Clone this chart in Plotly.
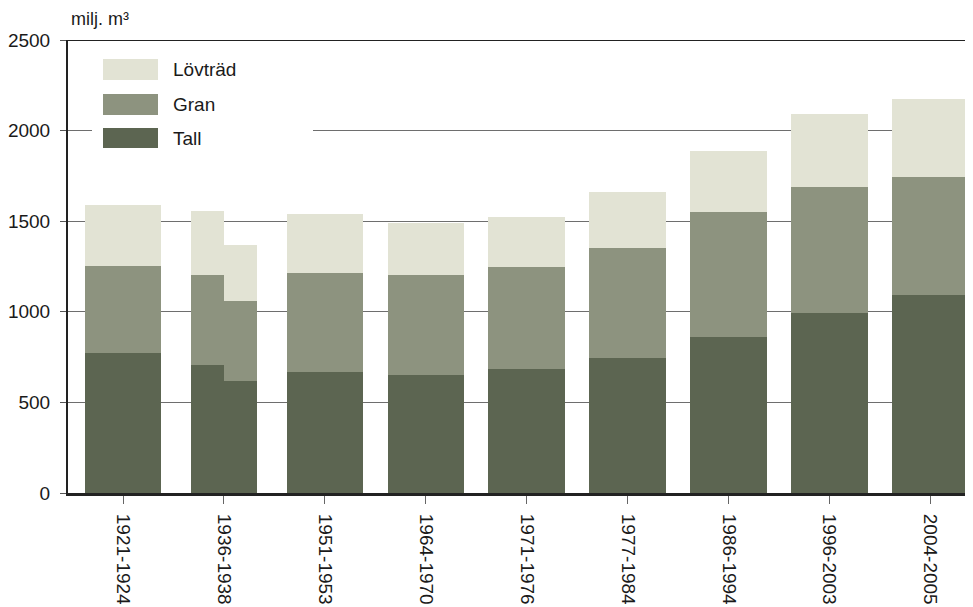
import plotly.graph_objects as go

periods = ["1921-1924", "1936-1938", "1951-1953", "1964-1970", "1971-1976",
           "1977-1984", "1986-1994", "1996-2003", "2004-2005"]
# each bar belongs to a period (1936-1938 has two estimates)
bar_period = [0, 1, 1, 2, 3, 4, 5, 6, 7, 8]
tall = [772, 705, 617, 666, 650, 683, 745, 859, 996, 1095]
gran = [482, 500, 445, 550, 555, 566, 609, 692, 692, 648]
lovtrad = [336, 352, 308, 322, 287, 275, 307, 339, 402, 429]
y_ticks = [0, 500, 1000, 1500, 2000, 2500]

series = [("Tall", tall, "#5c6551"), ("Gran", gran, "#8d937f"), ("Lövträd", lovtrad, "#e2e3d4")]

# positions: split periods share the slot
full_w, half_w = 0.76, 0.33
xs, ws = [], []
for i, p in enumerate(bar_period):
    n = bar_period.count(p)
    if n == 1:
        xs.append(p); ws.append(full_w)
    else:
        k = [j for j, q in enumerate(bar_period) if q == p].index(i)
        xs.append(p + (k - (n - 1) / 2) * half_w)
        ws.append(half_w)

# page has an 8px body margin; figure sized to fill the rest of the window
OFF = 8
W, H = 965, 599
L, R, T, B = 68 - OFF, 0, 40 - OFF, 114
pw, ph = W - L - R, H - T - B

def px(x):  # window pixel -> paper x
    return (x - OFF - L) / pw

def py(y):  # window pixel -> paper y
    return (H - B - (y - OFF)) / ph

fig = go.Figure()
for name, vals, col in series:
    fig.add_trace(go.Bar(x=xs, y=vals, width=ws, name=name, marker_color=col,
                         marker_line_width=0, showlegend=False))

font = "Liberation Sans, Arial, sans-serif"
fs = 19
fig.update_layout(
    width=W, height=H, barmode="stack",
    margin=dict(l=L, r=R, t=T, b=B, autoexpand=False),
    plot_bgcolor="white", paper_bgcolor="white",
    font=dict(family=font, size=fs, color="#1a1a1a"),
    xaxis=dict(range=[-0.545, 8.42], tickmode="array", tickvals=list(range(len(periods))),
               ticktext=periods, tickangle=90, showgrid=False, showline=True,
               linecolor="#222", linewidth=3, ticks="outside", ticklen=8,
               tickcolor="#666", tickwidth=1, zeroline=False, automargin=False,
               tickfont=dict(size=fs, color="#1a1a1a"), ticklabelstandoff=6),
    yaxis=dict(range=[0, 2500], tickmode="array", tickvals=y_ticks,
               showgrid=True, gridcolor="#6e6e6e", gridwidth=1.2,
               showline=True, linecolor="#222", linewidth=2, ticks="outside",
               ticklen=6, tickcolor="#555", zeroline=False, automargin=False,
               tickfont=dict(size=fs, color="#1a1a1a"), ticklabelstandoff=6),
)

# top border at 2500
fig.add_shape(type="line", xref="paper", yref="y", x0=0, x1=1, y0=2500, y1=2500,
              line=dict(color="#222", width=2))

# legend
fig.add_shape(type="rect", xref="paper", yref="paper", x0=px(92), x1=px(313),
              y0=py(155), y1=py(50), fillcolor="white", line_width=0, layer="above")
leg_rows = [("Lövträd", "#e2e3d4", 59, 80), ("Gran", "#8d937f", 94, 115), ("Tall", "#5c6551", 128, 148)]
for name, col, y0, y1 in leg_rows:
    fig.add_shape(type="rect", xref="paper", yref="paper", x0=px(103), x1=px(158),
                  y0=py(y1), y1=py(y0), fillcolor=col, line_width=0, layer="above")
    fig.add_annotation(text=name, xref="paper", yref="paper", x=px(171), y=py((y0 + y1) / 2),
                       xanchor="left", yanchor="middle", showarrow=False,
                       font=dict(size=fs, color="#1a1a1a"))

fig.add_annotation(text="milj. m³", xref="paper", yref="paper", x=px(69), y=py(19),
                   xanchor="left", yanchor="middle", showarrow=False,
                   font=dict(size=18, color="#1a1a1a"))

fig.write_html("out.html")
